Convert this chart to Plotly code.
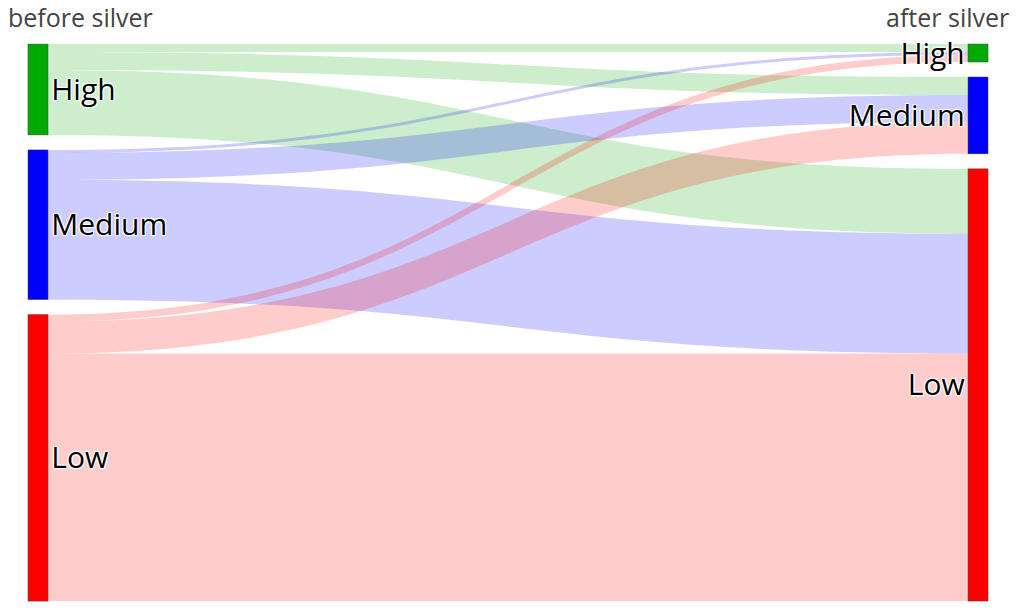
import plotly.graph_objects as go

# nodes: before (0-2), after (3-5)
labels = ["High", "Medium", "Low", "High", "Medium", "Low"]
node_colors = ["#00aa00", "blue", "red", "#00aa00", "blue", "red"]
node_x = [0.0104, 0.0104, 0.0104, 0.9896, 0.9896, 0.9896]
node_y = [0.0817, 0.3232, 0.7424, 0.0162, 0.1266, 0.6113]

# flows before -> after
sources = [0, 0, 0, 1, 1, 1, 2, 2, 2]
targets = [3, 4, 5, 3, 4, 5, 3, 4, 5]
values = [8, 18, 65, 3, 27, 120, 7, 32, 248]
link_colors = ["rgba(0,170,0,0.2)"] * 3 + ["rgba(0,0,255,0.2)"] * 3 + ["rgba(255,0,0,0.2)"] * 3

fig = go.Figure(go.Sankey(
    arrangement="snap",
    node=dict(label=labels, color=node_colors, x=node_x, y=node_y,
              pad=15, thickness=20, line=dict(color="#444", width=0.5)),
    link=dict(source=sources, target=targets, value=values, color=link_colors),
    textfont=dict(family="Open Sans", size=30, color="black"),
))

fig.update_layout(
    width=1020, height=614,
    margin=dict(l=20, r=40, t=36, b=21),
    paper_bgcolor="white",
    font=dict(family="Open Sans"),
    annotations=[
        dict(text="before silver", xref="paper", yref="paper", x=-0.0229, y=1.048,
             xanchor="left", yanchor="middle", showarrow=False,
             font=dict(size=25, color="#444")),
        dict(text="after silver", xref="paper", yref="paper", x=1.024, y=1.048,
             xanchor="right", yanchor="middle", showarrow=False,
             font=dict(size=25, color="#444")),
    ],
)

fig.write_html("out.html")
